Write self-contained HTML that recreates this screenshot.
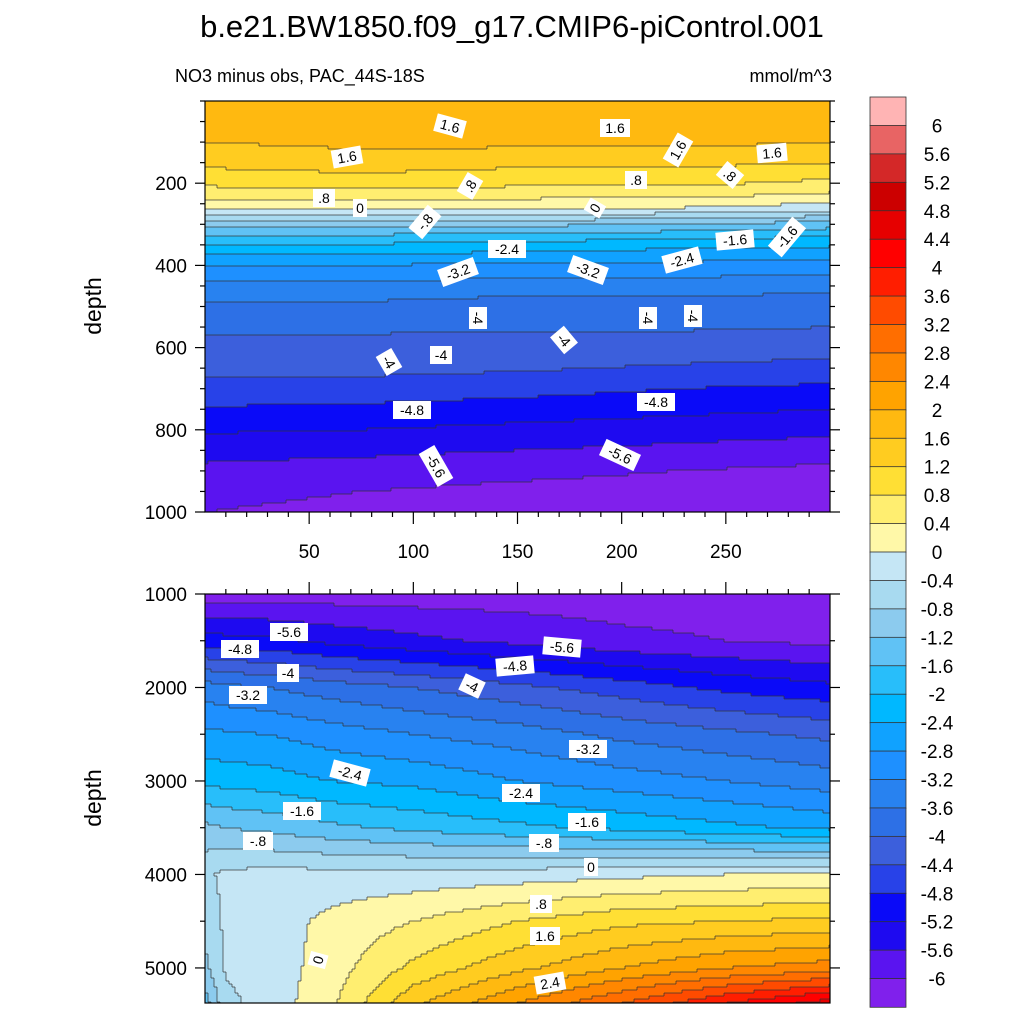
<!DOCTYPE html>
<html><head><meta charset="utf-8">
<style>
body{margin:0;background:#fff;width:1024px;height:1024px;overflow:hidden}
svg text{font-family:"Liberation Sans",sans-serif;fill:#000}
</style></head>
<body>
<svg id="chart" width="1024" height="1024" viewBox="0 0 1024 1024" xmlns="http://www.w3.org/2000/svg">
<defs>
<clipPath id="clip-top"><rect x="205" y="101" width="625" height="411"/></clipPath>
<clipPath id="clip-bottom"><rect x="205" y="594" width="625" height="409"/></clipPath>
</defs>
<text x="512" y="37" font-size="31" text-anchor="middle">b.e21.BW1850.f09_g17.CMIP6-piControl.001</text>
<text x="175" y="82" font-size="18">NO3 minus obs, PAC_44S-18S</text>
<text x="832" y="82" font-size="18" text-anchor="end">mmol/m^3</text>
<g id="top"></g>
<g id="bot"></g>
<g id="cbar"></g>
<text transform="translate(101,306) rotate(-90)" font-size="23" text-anchor="middle">depth</text>
<text transform="translate(101,798) rotate(-90)" font-size="23" text-anchor="middle">depth</text>
</svg>
<script>
// ---- data ----
const levels = [-6,-5.6,-5.2,-4.8,-4.4,-4,-3.6,-3.2,-2.8,-2.4,-2,-1.6,-1.2,-0.8,-0.4,0,0.4,0.8,1.2,1.6,2,2.4,2.8,3.2,3.6,4,4.4,4.8,5.2,5.6,6];
const levelLabels = ["6","5.6","5.2","4.8","4.4","4","3.6","3.2","2.8","2.4","2","1.6","1.2","0.8","0.4","0","-0.4","-0.8","-1.2","-1.6","-2","-2.4","-2.8","-3.2","-3.6","-4","-4.4","-4.8","-5.2","-5.6","-6"];
const colors = ["#8020EC","#5A14F0","#1E0AF0","#0A0AF8","#2842E8","#3C5FDC","#2D70E6","#2882F0","#1E90FF","#10A2FF","#00B8FF","#28BEFA","#60C2F5","#8CCBEE","#A8DAF0","#C5E6F5","#FFF8A8","#FFEE70","#FFDF34","#FFCC20","#FFB910","#FFA300","#FF8700","#FF6E00","#FF4B00","#FF1E00","#FF0000","#E60000","#CC0000","#D42828","#E86464","#FFB4B4"];
const topX = [0,75,150,225,300];
const topDepth = [0,50,100,150,200,230,260,280,300,330,360,400,450,500,550,600,650,700,750,800,850,900,950,1000];
const topVals = [
[1.9,2.0,1.9,1.9,1.8],[1.9,2.0,1.95,1.95,1.85],[1.6,1.7,1.7,1.7,1.6],[1.3,1.4,1.3,1.3,1.2],
[0.9,1.0,0.9,0.9,0.7],[0.5,0.6,0.5,0.5,0.3],[0.1,0.1,0.1,0.0,-0.2],[-0.5,-0.4,-0.5,-0.6,-0.8],
[-1.1,-1.0,-1.1,-1.2,-1.4],[-1.7,-1.7,-1.8,-1.9,-2.0],[-2.2,-2.2,-2.3,-2.4,-2.5],[-2.8,-2.8,-2.9,-2.9,-3.0],
[-3.3,-3.3,-3.4,-3.4,-3.5],[-3.7,-3.7,-3.8,-3.8,-3.8],[-3.95,-3.95,-3.95,-3.95,-4.0],[-4.1,-4.1,-4.15,-4.2,-4.3],
[-4.3,-4.3,-4.35,-4.45,-4.5],[-4.5,-4.55,-4.65,-4.8,-4.9],[-4.85,-4.9,-5.0,-5.1,-5.2],[-5.15,-5.2,-5.3,-5.4,-5.5],
[-5.45,-5.5,-5.6,-5.7,-5.8],[-5.7,-5.8,-5.9,-6.0,-6.1],[-5.9,-6.0,-6.1,-6.15,-6.2],[-6.0,-6.1,-6.2,-6.25,-6.3]];
const botX = [0,10,30,60,100,150,200,250,300];
const botDepth = [1000,1500,2000,2500,3000,3500,4000,4500,5000,5375];
const botVals = [
[-6.2,-6.2,-6.2,-6.2,-6.2,-6.2,-6.2,-6.2,-6.2],
[-5.0,-5.05,-5.1,-5.3,-5.5,-5.7,-5.9,-6.0,-6.1],
[-3.4,-3.5,-3.6,-3.8,-4.0,-4.3,-4.6,-4.9,-5.1],
[-2.7,-2.75,-2.8,-3.0,-3.2,-3.4,-3.7,-3.9,-4.1],
[-2.1,-2.15,-2.2,-2.4,-2.5,-2.8,-3.0,-3.2,-3.4],
[-1.1,-1.2,-1.3,-1.5,-1.7,-1.9,-2.1,-2.3,-2.5],
[-0.5,-0.3,-0.25,-0.25,-0.25,-0.2,-0.1,0.0,0.05],
[-0.7,-0.3,-0.2,0.1,0.4,0.8,1.1,1.2,1.3],
[-0.9,-0.35,-0.25,0.2,0.9,1.5,2.0,2.4,2.6],
[-1.4,-0.5,-0.25,0.3,1.5,2.4,3.2,4.0,4.6]];
const topYTicks = [200,400,600,800,1000];
const botYTicks = [1000,2000,3000,4000,5000];
const xTicks = [50,100,150,200,250];
const topLabels = [["1.6",450,126,15],["1.6",615,128,0],["1.6",347,157,-10],["1.6",678,150,-60],["1.6",772,153,-5],[".8",324,198,0],["0",360,208,0],[".8",470,186,-60],[".8",636,180,0],[".8",730,175,40],["-.8",425,222,-50],["0",595,208,-60],["-2.4",507,249,0],["-1.6",735,240,-5],["-1.6",787,237,-50],["-3.2",458,272,-20],["-3.2",588,270,20],["-2.4",682,260,-15],["-4",478,318,90],["-4",564,340,50],["-4",648,318,90],["-4",693,316,90],["-4",389,362,60],["-4",441,355,0],["-4.8",412,410,0],["-4.8",656,402,0],["-5.6",436,466,60],["-5.6",620,455,25]];
const botLabels = [["-5.6",289,632,0],["-5.6",562,647,5],["-4.8",240,649,0],["-4.8",515,666,-5],["-4",288,673,0],["-4",472,686,25],["-3.2",248,695,0],["-3.2",588,749,0],["-2.4",350,773,15],["-2.4",521,793,0],["-1.6",302,811,0],["-1.6",587,822,0],["-.8",258,841,0],["-.8",544,843,0],["0",591,867,0],[".8",541,904,0],["1.6",545,936,0],["2.4",550,983,-10],["0",318,960,-75]];

// ---- helpers ----
const NS="http://www.w3.org/2000/svg";
function mk(tag,attrs,parent){const e=document.createElementNS(NS,tag);for(const k in attrs)e.setAttribute(k,attrs[k]);parent.appendChild(e);return e;}
function interp1(arr,v){let i=0;while(i<arr.length-2&&v>arr[i+1])i++;let t=(v-arr[i])/(arr[i+1]-arr[i]);t=Math.max(0,Math.min(1,t));return [i,t];}
function field(xs,ds,vals,x,d){const [i,ti]=interp1(ds,d);const [j,tj]=interp1(xs,x);
 const a=vals[i][j]*(1-tj)+vals[i][j+1]*tj,b=vals[i+1][j]*(1-tj)+vals[i+1][j+1]*tj;return a*(1-ti)+b*ti;}
function lev(v){let k=0;while(k<levels.length&&v>=levels[k])k++;return k;}

function panel(g,name,clip,px0,py0,pw,ph,xmin,xmax,dmin,dmax,xs,ds,vals,yTicks,yMinor,showX,xTickUp,labels){
 const sx=x=>px0+(x-xmin)/(xmax-xmin)*pw, sy=d=>py0+(d-dmin)/(dmax-dmin)*ph;
 const step=3,nx=Math.ceil(pw/step),ny=Math.ceil(ph/step);
 const L=[];
 for(let r=0;r<ny;r++){L.push([]);const d=dmin+(r+0.5)*step/ph*(dmax-dmin);
  for(let c=0;c<nx;c++){const x=xmin+(c+0.5)*step/pw*(xmax-xmin);L[r].push(lev(field(xs,ds,vals,x,d)));}}
 const fg=mk('g',{'clip-path':'url(#'+clip+')'},g);
 for(let r=0;r<ny;r++){let c=0;while(c<nx){let e=c;while(e+1<nx&&L[r][e+1]===L[r][c])e++;
  const rc=mk('rect',{x:px0+c*step,y:py0+r*step,width:(e-c+1)*step+0.5,height:step+0.5,fill:colors[L[r][c]]},fg);
  c=e+1;}}
 const lg=mk('g',{fill:'#333','clip-path':'url(#'+clip+')'},g);
 for(let r=1;r<ny;r++){let c=0;while(c<nx){if(L[r][c]!==L[r-1][c]){let e=c;while(e+1<nx&&L[r][e+1]!==L[r-1][e+1])e++;
  mk('rect',{x:px0+c*step,y:py0+r*step-0.35,width:(e-c+1)*step,height:0.7},lg);c=e+1;}else c++;}}
 for(let r=0;r<ny;r++)for(let c=1;c<nx;c++)if(L[r][c]!==L[r][c-1])mk('rect',{x:px0+c*step-0.35,y:py0+r*step,width:0.7,height:step},lg);
 const fr=mk('rect',{x:px0,y:py0,width:pw,height:ph,fill:'none',stroke:'#000','stroke-width':1.2},g);
 
 const ax=mk('g',{stroke:'#000','stroke-width':1.2},g);
 for(let d=Math.ceil(dmin/yMinor)*yMinor;d<=dmax;d+=yMinor){const y=sy(d);const maj=yTicks.includes(d);const l=maj?10:5;
  mk('line',{x1:px0-l,y1:y,x2:px0,y2:y},ax);mk('line',{x1:px0+pw,y1:y,x2:px0+pw+l,y2:y},ax);}
 yTicks.forEach(d=>{const t=mk('text',{x:px0-18,y:sy(d)+7,'font-size':19,'text-anchor':'end'},g);t.textContent=d;
  });
 for(let x=10;x<xmax;x+=10){const X=sx(x);const maj=xTicks.includes(x);const l=maj?12:5;
  if(xTickUp)mk('line',{x1:X,y1:py0,x2:X,y2:py0-l},ax);else mk('line',{x1:X,y1:py0+ph,x2:X,y2:py0+ph+l},ax);}
 if(showX)xTicks.forEach(x=>{const t=mk('text',{x:sx(x),y:py0+ph+46,'font-size':19,'text-anchor':'middle'},g);t.textContent=x;
  });
 labels.forEach(([s,x,y,rot])=>{const lgp=mk('g',{transform:`translate(${x},${y}) rotate(${rot})`},g);
  
  const w=s.length*8+6;mk('rect',{x:-w/2,y:-9,width:w,height:18,fill:'#fff'},lgp);
  const t=mk('text',{x:0,y:5,'font-size':14,'text-anchor':'middle'},lgp);t.textContent=s;});
}
panel(document.getElementById('top'),'top','clip-top',205,101,625,411,0,300,0,1000,topX,topDepth,topVals,topYTicks,50,true,false,topLabels);
panel(document.getElementById('bot'),'bottom','clip-bottom',205,594,625,409,0,300,1000,5375,botX,botDepth,botVals,botYTicks,500,false,true,botLabels);

// colorbar
const cb=document.getElementById('cbar');const cx=870,cy=97,cw=36,ch=910,n=colors.length,bh=ch/n;
for(let i=0;i<n;i++){const r=mk('rect',{x:cx,y:cy+i*bh,width:cw,height:bh+0.3,fill:colors[n-1-i],stroke:'#333','stroke-width':0.8},cb);
 }
levelLabels.forEach((s,i)=>{const t=mk('text',{x:937,y:cy+(i+1)*bh+7,'font-size':19,'text-anchor':'middle'},cb);t.textContent=s;
 });
</script>
</body></html>
